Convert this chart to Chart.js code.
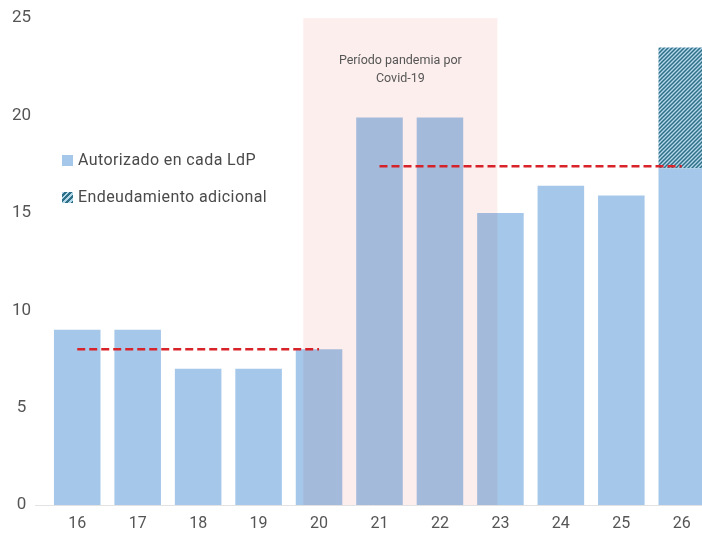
<!DOCTYPE html>
<html>
<head>
<meta charset="utf-8">
<script src="https://cdn.jsdelivr.net/npm/chart.js@4.4.1/dist/chart.umd.min.js"></script>
<style>
    html, body { margin: 0; padding: 0; background: #fff; overflow: hidden; }
    #wrap { position: relative; width: 712px; height: 535px; }
    .legend { position: absolute; left: 62px; font-family: Roboto, sans-serif; font-size: 16px; color: #4a4a4a; letter-spacing: 0.4px; }
    .legend span.sw { display: inline-block; width: 11px; height: 11px; margin-right: 5px; vertical-align: -1px; }
    .sw.blue { background: #a5c8ea; }
    .sw.hatch { background: repeating-linear-gradient(-45deg, #2e6f88 0 2px, #b4d7ea 2px 4px); }
</style>
</head>
<body>
<div id="wrap">
    <canvas id="ldpChart" width="712" height="535"></canvas>
    <div class="legend" style="top:150px"><span class="sw blue"></span>Autorizado en cada LdP</div>
    <div class="legend" style="top:187px"><span class="sw hatch"></span>Endeudamiento adicional</div>
</div>
<script>
// data
const years = ["16", "17", "18", "19", "20", "21", "22", "23", "24", "25", "26"];
const autorizado = [9, 9, 7, 7, 8, 19.9, 19.9, 15, 16.4, 15.9, 17.3];
const adicional = [0, 0, 0, 0, 0, 0, 0, 0, 0, 0, 6.2];
const promedioPre = [8, 8, 8, 8, 8, null, null, null, null, null, null];
const promedioPost = [null, null, null, null, null, 17.4, 17.4, 17.4, 17.4, 17.4, 17.4];
const yTicks = [0, 5, 10, 15, 20, 25];
// pandemic band, in category-index units
const pandemiaDesde = 3.74;
const pandemiaHasta = 6.95;
const pandemiaTexto = ["Período pandemia por", "Covid-19"];

// hatch pattern for the extra debt
function makeHatch() {
    const c = document.createElement('canvas');
    c.width = 4; c.height = 4;
    const g = c.getContext('2d');
    g.fillStyle = '#b4d7ea';
    g.fillRect(0, 0, 4, 4);
    g.strokeStyle = '#2e6f88';
    g.lineWidth = 1.5;
    g.beginPath();
    g.moveTo(-1, 5); g.lineTo(5, -1);
    g.moveTo(-1, 1); g.lineTo(1, -1);
    g.moveTo(3, 5); g.lineTo(5, 3);
    g.stroke();
    return g.createPattern(c, 'repeat');
}

const bandPlugin = {
    id: 'pandemia',
    afterDatasetsDraw(chart) {
        const { ctx, chartArea, scales } = chart;
        const x = scales.x, y = scales.y;
        const step = x.getPixelForValue(1) - x.getPixelForValue(0);
        const x0 = x.getPixelForValue(0) + pandemiaDesde * step;
        const x1 = x.getPixelForValue(0) + pandemiaHasta * step;
        const top = y.getPixelForValue(25);
        ctx.save();
        ctx.globalCompositeOperation = 'multiply';
        ctx.fillStyle = '#fdeeee';
        ctx.fillRect(x0, top, x1 - x0, chartArea.bottom - top);
        ctx.restore();
        ctx.save();
        ctx.fillStyle = '#555';
        ctx.font = '12.5px Roboto, sans-serif';
        ctx.textAlign = 'center';
        ctx.fillText(pandemiaTexto[0], (x0 + x1) / 2, 64);
        ctx.fillText(pandemiaTexto[1], (x0 + x1) / 2, 82);
        // base line
        ctx.strokeStyle = '#e2e2e2';
        ctx.lineWidth = 1;
        ctx.beginPath();
        ctx.moveTo(chartArea.left - 12, chartArea.bottom + 0.5);
        ctx.lineTo(chartArea.right, chartArea.bottom + 0.5);
        ctx.stroke();
        ctx.restore();
    }
};

const ctx = document.getElementById('ldpChart').getContext('2d');
const chart = new Chart(ctx, {
    data: {
        labels: years,
        datasets: [{
            type: 'line',
            data: promedioPre,
            borderColor: '#d9232b',
            borderWidth: 2.5,
            borderDash: [8, 4],
            pointRadius: 0,
            order: 0
        }, {
            type: 'line',
            data: promedioPost,
            borderColor: '#d9232b',
            borderWidth: 2.5,
            borderDash: [8, 4],
            pointRadius: 0,
            order: 0
        }, {
            type: 'bar',
            label: 'Autorizado en cada LdP',
            data: autorizado,
            backgroundColor: '#a5c8ea',
            stack: 's',
            barPercentage: 0.77,
            categoryPercentage: 1,
            order: 1
        }, {
            type: 'bar',
            label: 'Endeudamiento adicional',
            data: adicional,
            backgroundColor: makeHatch(),
            stack: 's',
            barPercentage: 0.77,
            categoryPercentage: 1,
            order: 1
        }]
    },
    options: {
        responsive: false,
        animation: false,
        layout: { padding: { top: 10, right: 0, left: 0, bottom: 0 } },
        plugins: { legend: { display: false }, tooltip: { enabled: false } },
        scales: {
            x: {
                stacked: true,
                afterFit(s) { s.height = 30; },
                grid: { display: false },
                border: { display: false },
                ticks: { color: '#555', font: { family: 'Roboto', size: 16 }, padding: 1 }
            },
            y: {
                stacked: true,
                min: 0,
                max: 25,
                afterFit(s) { s.width = 47; },
                afterBuildTicks(s) { s.ticks = yTicks.map(v => ({ value: v })); },
                grid: { display: false },
                border: { display: false },
                ticks: { color: '#555', font: { family: 'Roboto', size: 17 }, crossAlign: 'center', padding: 8 }
            }
        }
    },
    plugins: [bandPlugin]
});
</script>
</body>
</html>
